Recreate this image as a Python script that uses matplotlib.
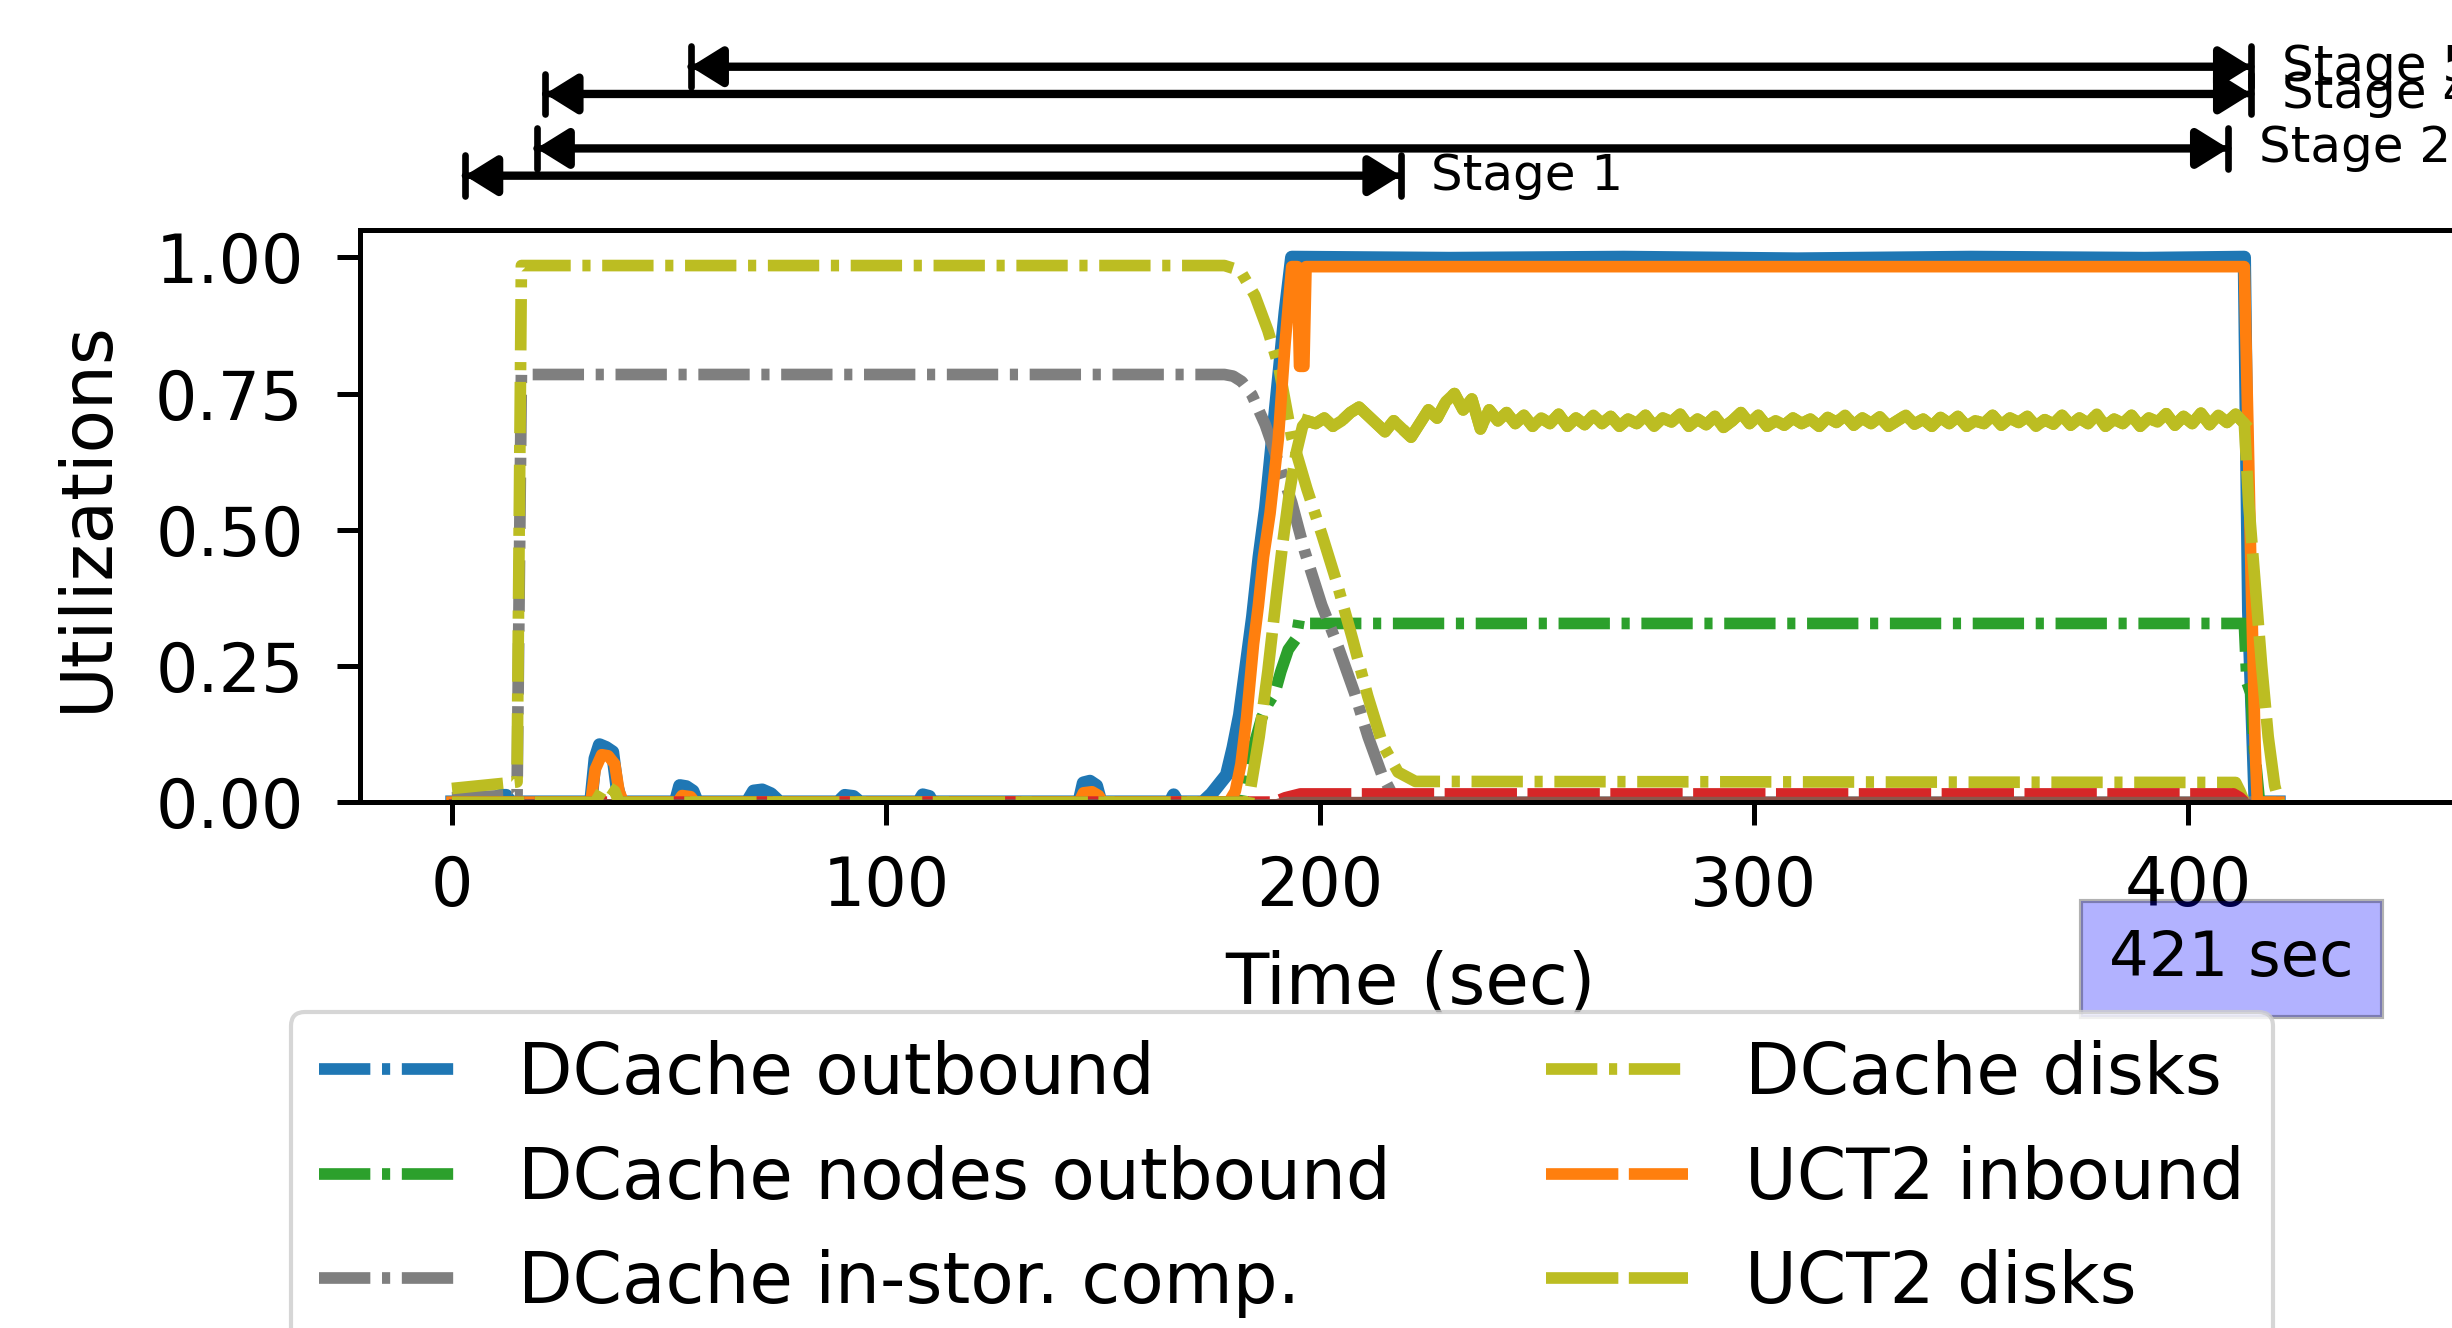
import numpy as np
import matplotlib
matplotlib.use('agg')
import matplotlib.pyplot as plt
from matplotlib.lines import Line2D

# (time, utilization) points
dcache_out = [(0, 0), (10, 0), (11, 0.012), (12.5, 0.012), (13.5, 0), (32, 0), (33, 0.08), (34, 0.105),
              (35.5, 0.1), (37, 0.092), (38, 0.03), (39, 0), (51.5, 0), (52.5, 0.03), (54, 0.028), (55.5, 0.02),
              (56.5, 0), (68, 0), (69.5, 0.02), (71.5, 0.022), (73.5, 0.015), (75.5, 0), (89, 0), (90.5, 0.012),
              (92.5, 0.01), (94, 0), (107.5, 0), (108.5, 0.013), (110, 0.01), (110.5, 0), (144.5, 0),
              (145.5, 0.035), (147, 0.038), (148.5, 0.03), (149.5, 0), (165.5, 0), (166.3, 0.013), (167.2, 0),
              (173, 0), (175, 0.015), (177, 0.035), (178.5, 0.05), (180, 0.1), (181.5, 0.16), (183, 0.25),
              (184.5, 0.34), (186, 0.45), (187.5, 0.54), (189, 0.66), (190.5, 0.78), (192, 0.9), (193.5, 1.0),
              (230, 0.998), (270, 1.0), (310, 0.997), (350, 1.0), (390, 0.998), (413, 1.0), (414, 0.35),
              (415.5, 0), (421, 0)]

dcache_nodes_out = [(0, 0), (182, 0), (183.5, 0.07), (185, 0.11), (186.6, 0.155), (188, 0.18), (189.6, 0.2),
                    (191, 0.24), (192.7, 0.28), (194.5, 0.3), (195.2, 0.334), (197, 0.328), (413, 0.328),
                    (413.6, 0.22), (414.5, 0.2), (415.3, 0.1), (416.5, 0), (421, 0)]

dcache_instor = [(0, 0.008), (15, 0.013), (16, 0.785), (178, 0.785), (180, 0.782), (182, 0.772), (184.3, 0.748),
                 (187.4, 0.693), (190.4, 0.624), (193.5, 0.55), (196.5, 0.46), (200.4, 0.362), (204.2, 0.285),
                 (208, 0.2), (211.1, 0.12), (214.2, 0.052), (216.5, 0.017), (218, 0), (421, 0)]

dcache_disks = [(0, 0.025), (15, 0.037), (16, 0.985), (178, 0.985), (181.6, 0.976), (185, 0.93), (188, 0.866),
                (190.5, 0.8), (193.5, 0.67), (197, 0.575), (200.5, 0.49), (204, 0.4), (207.5, 0.3), (211, 0.195),
                (214.5, 0.105), (218, 0.055), (222, 0.038), (411, 0.036), (412, 0.02), (413, 0)]

uct2_in = [(0, 0), (32, 0), (33, 0.06), (34.5, 0.087), (36, 0.085), (37.5, 0.07), (38.5, 0.02), (39.5, 0),
           (52, 0), (53, 0.012), (55, 0.01), (56, 0), (144.5, 0), (145.5, 0.017), (147.5, 0.019), (149, 0.012),
           (150, 0), (179, 0), (180.5, 0.02), (181.8, 0.07), (183.1, 0.155), (184.7, 0.29), (185.8, 0.36),
           (187, 0.45), (188.5, 0.53), (190.4, 0.666), (192, 0.845), (193.5, 0.983), (194.8, 0.983),
           (195.3, 0.8), (196.3, 0.8), (196.8, 0.983), (413, 0.983), (413.8, 0.7), (414.6, 0.4),
           (415.5, 0.1), (416, 0), (421, 0)]

uct2_disks_ramp_up = [(0, 0), (33, 0), (34.5, 0.02), (36, 0.028), (37.5, 0.02), (38.5, 0), (183.5, 0),
                      (186, 0.12), (188, 0.24), (190, 0.38), (191.5, 0.48), (193, 0.57), (194.5, 0.64), (196, 0.69)]
# noisy plateau, one value every 2 s from 197 s to 413 s
uct2_disks_plateau = [0.70, 0.695, 0.705, 0.69, 0.70, 0.715, 0.725, 0.71, 0.695, 0.68, 0.70, 0.685, 0.67, 0.695,
                      0.72, 0.705, 0.735, 0.75, 0.72, 0.74, 0.685, 0.72, 0.70, 0.715, 0.695, 0.71, 0.69, 0.705,
                      0.695, 0.712, 0.69, 0.705, 0.693, 0.71, 0.695, 0.708, 0.69, 0.703, 0.695, 0.71, 0.69, 0.705,
                      0.698, 0.712, 0.69, 0.703, 0.693, 0.708, 0.688, 0.70, 0.715, 0.695, 0.71, 0.69, 0.70, 0.692,
                      0.705, 0.695, 0.703, 0.69, 0.706, 0.697, 0.71, 0.692, 0.705, 0.695, 0.707, 0.69, 0.70, 0.71,
                      0.694, 0.703, 0.69, 0.706, 0.695, 0.708, 0.69, 0.70, 0.695, 0.71, 0.692, 0.705, 0.697, 0.708,
                      0.69, 0.702, 0.694, 0.71, 0.692, 0.705, 0.695, 0.712, 0.69, 0.703, 0.695, 0.71, 0.69, 0.705,
                      0.698, 0.713, 0.692, 0.708, 0.695, 0.714, 0.693, 0.71, 0.697, 0.712, 0.695]
uct2_disks_ramp_down = [(414, 0.55), (415.5, 0.4), (417, 0.25), (418.5, 0.12), (420, 0.03), (421, 0)]

uct2_nodes_in = [(0, 0), (189.5, 0), (192, 0.008), (195.5, 0.015), (410.5, 0.015), (412, 0.008), (413, 0)]
uct2_instor = [(0, 0), (190, 0), (192, 0.004), (413, 0.004), (414, 0)]

stage_names = ['Stage 1', 'Stage 2', 'Stage 4', 'Stage 5']
stage_start = [3, 19.5, 21.5, 55]
stage_end = [218.6, 409.3, 414.6, 414.6]
stage_level = [1.15, 1.20, 1.30, 1.35]

DASHDOT = (0, (4.4, 1.0, 0.7, 1.0))
DASHED = (0, (6.2, 0.9))
LW = 2.8

fig = plt.figure(figsize=(2452 / 300, 1328 / 300), dpi=300)
ax = fig.add_axes([0.1468, 0.396, 0.857, 0.4307])


def xy(pts):
    a = np.array(pts, dtype=float)
    return a[:, 0], a[:, 1]


# legend handles (name, colour, style)
legend_items = [('DCache outbound', 'tab:blue', DASHDOT),
                ('DCache nodes outbound', 'tab:green', DASHDOT),
                ('DCache in-stor. comp.', 'tab:gray', DASHDOT),
                ('DCache disks', 'tab:olive', DASHDOT),
                ('UCT2 inbound', 'tab:orange', DASHED),
                ('UCT2 disks', 'tab:olive', DASHED)]

t, v = xy(dcache_out)
ax.plot(t, v, color='tab:blue', ls='-', lw=LW + 0.4)
t, v = xy(dcache_nodes_out)
ax.plot(t, v, color='tab:green', ls=DASHDOT, lw=LW)
t, v = xy(dcache_instor)
ax.plot(t, v, color='tab:gray', ls=DASHDOT, lw=LW)
t, v = xy(dcache_disks)
ax.plot(t, v, color='tab:olive', ls=DASHDOT, lw=LW)
t, v = xy(uct2_in)
ax.plot(t, v, color='tab:orange', ls='-', lw=LW)
t, v = xy(uct2_nodes_in)
ax.plot(t, v, color='tab:red', ls=DASHED, lw=LW)
t, v = xy(uct2_instor)
ax.plot(t, v, color='tab:brown', ls='-', lw=1.5)

# UCT2 disks: dashed ramps, the noisy plateau looks continuous
plateau_t = np.arange(197, 414, 2)
tu, vu = xy(uct2_disks_ramp_up)
td, vd = xy(uct2_disks_ramp_down)
t_all = np.concatenate([tu, plateau_t, td])
v_all = np.concatenate([vu, uct2_disks_plateau, vd])
ax.plot(t_all, v_all, color='tab:olive', ls=DASHED, lw=LW)
ax.plot(plateau_t, uct2_disks_plateau, color='tab:olive', ls='-', lw=LW)

ax.set_xlim(-21.2, 463)
ax.set_ylim(0, 1.05)
ax.set_yticks([0, 0.25, 0.5, 0.75, 1.0])
ax.set_xticks([0, 100, 200, 300, 400])
ax.tick_params(labelsize=16, length=5.5, width=1.2)
ax.tick_params(axis='x', pad=7)
ax.tick_params(axis='y', pad=8)
for s in ax.spines.values():
    s.set_linewidth(1.2)
ax.set_xlabel('Time (sec)', fontsize=17, labelpad=7)
ax.set_ylabel('Utilizations', fontsize=17, labelpad=8)

# stage arrows above the plot
for name, a, b, y in zip(stage_names, stage_start, stage_end, stage_level):
    ax.annotate('', xy=(b, y), xytext=(a, y), annotation_clip=False,
                arrowprops=dict(arrowstyle='<|-|>,head_length=0.45,head_width=0.28', color='black',
                                lw=2, shrinkA=0, shrinkB=0, mutation_scale=14))
    ax.annotate('', xy=(b, y), xytext=(a, y), annotation_clip=False,
                arrowprops=dict(arrowstyle='|-|,widthA=0.35,widthB=0.35', color='black',
                                lw=1.6, shrinkA=0, shrinkB=0, mutation_scale=14))
    ax.text(b + 7, y, name, fontsize=12, va='center', ha='left', clip_on=False)

ax.text(410, -0.288, '421 sec', fontsize=15, ha='center', va='center',
        bbox=dict(boxstyle='square,pad=0.45', facecolor='blue', alpha=0.3))

handles = [Line2D([], [], color=c, ls=ls, lw=LW) for _, c, ls in legend_items]
labels = [n for n, _, _ in legend_items]
fig.legend(handles, labels, ncol=2, fontsize=17, loc='upper left',
           bbox_to_anchor=(0.1187, 0.238), borderaxespad=0, labelspacing=0.5,
           columnspacing=2.2)

fig.savefig('out.png', dpi=300)
